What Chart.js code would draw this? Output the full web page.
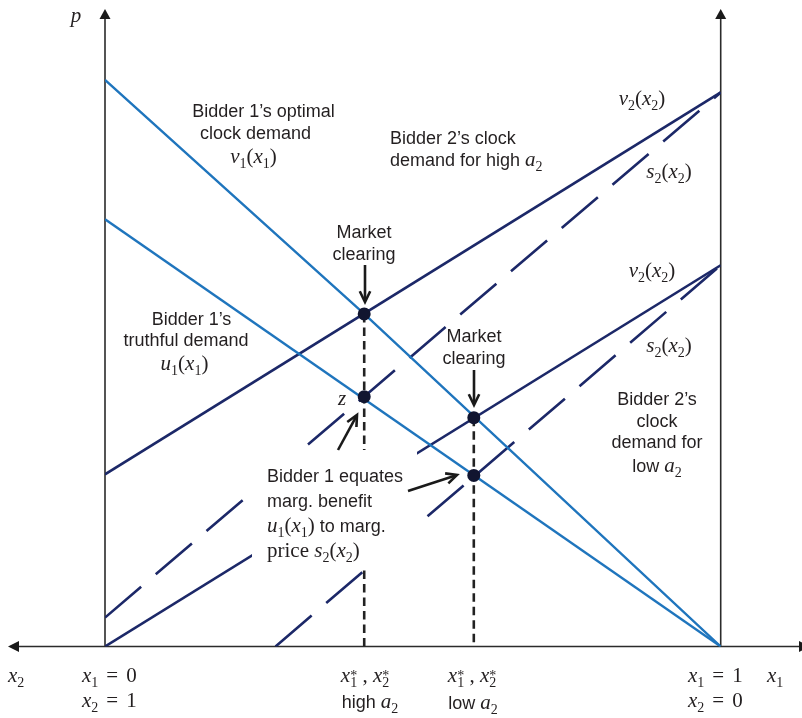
<!DOCTYPE html>
<html><head><meta charset="utf-8">
<script src="https://cdn.jsdelivr.net/npm/chart.js@4"></script>
<style>html,body{margin:0;padding:0;background:#fff;}canvas{display:block;}</style>
</head><body>
<canvas id="c" width="802" height="718"></canvas>
<script>
// ---- data (x1 in [0,1], price p in relative units) ----
const v1X = [0, 0.421, 1];      const v1P = [1.0, 0.587, 0];       // Bidder 1 optimal clock demand v1(x1)
const u1X = [0, 1];             const u1P = [0.754, 0];            // Bidder 1 truthful demand u1(x1)
const v2HighX = [0, 1];         const v2HighP = [0.304, 0.978];    // v2(x2), high a2
const s2HighX = [0, 1];         const s2HighP = [0.051, 0.978];    // s2(x2), high a2
const v2LowX = [0, 1];          const v2LowP = [0, 0.673];         // v2(x2), low a2
const s2LowX = [0.277, 1];      const s2LowP = [0, 0.673];         // s2(x2), low a2
const markX = [0.421, 0.421, 0.599, 0.599];
const markP = [0.587, 0.441, 0.404, 0.302];
const dropHighX = [0.421, 0.421]; const dropHighP = [0.587, 0];
const dropLowX = [0.599, 0.599];  const dropLowP = [0.404, 0];
const xMin = 0, xMax = 1, pMin = 0, pMax = 1.1253;

const BLUE = '#1f75bd', NAVY = '#1c2868', INK = '#231f20';
const pts = (xs, ys) => xs.map((x, i) => ({x: x, y: ys[i]}));
const lineDs = (xs, ys, color, w, dash) => ({
  data: pts(xs, ys), showLine: true, borderColor: color, borderWidth: w,
  borderDash: dash || [], pointRadius: 0, fill: false, tension: 0
});

const SANS = '18px "Liberation Sans", Arial, sans-serif';
const MI = 'italic 21px "Liberation Serif", "Times New Roman", serif';
const MR = '21px "Liberation Serif", "Times New Roman", serif';
const SUB = '14px "Liberation Serif", "Times New Roman", serif';
function fontOf(k){ return k==='s'?SANS : k==='i'?MI : k==='r'?MR : SUB; }
function pw(ctx, p){
  if (p[0]==='g') return p[1];
  if (p[0]==='ss'){ ctx.font = SUB; return Math.max(ctx.measureText(p[1]).width, ctx.measureText(p[2]).width); }
  ctx.font = fontOf(p[0]); return ctx.measureText(p[1]).width;
}
function rich(ctx, parts, x, y, align){
  let w = 0; parts.forEach(p => w += pw(ctx, p));
  let cx = align==='center' ? x - w/2 : align==='right' ? x - w : x;
  ctx.textAlign = 'left'; ctx.textBaseline = 'alphabetic'; ctx.fillStyle = INK;
  parts.forEach(p => {
    const wd = pw(ctx, p);
    if (p[0]==='b'){ ctx.font = SUB; ctx.fillText(p[1], cx, y+5); }
    else if (p[0]==='ss'){ ctx.font = SUB; ctx.fillText(p[1], cx, y+5); ctx.fillText(p[2], cx, y-2); }
    else if (p[0]!=='g'){ ctx.font = fontOf(p[0]); ctx.fillText(p[1], cx, y); }
    cx += wd;
  });
}
const fn = (f, v, s) => [['i',f],['b',v],['r','('],['i','x'],['b',s],['r',')']];
const eq = (s, n) => [['i','x'],['b',s],['g',8],['r','='],['g',8],['r',n]];

function arrow(ctx, x1, y1, x2, y2){
  const a = Math.atan2(y2-y1, x2-x1), L = 12, s = 0.45;
  ctx.save(); ctx.strokeStyle = '#1a1a1a'; ctx.lineWidth = 2.6; ctx.lineCap = 'butt'; ctx.lineJoin = 'miter';
  ctx.beginPath(); ctx.moveTo(x1,y1); ctx.lineTo(x2-Math.cos(a)*1.5, y2-Math.sin(a)*1.5); ctx.stroke();
  ctx.beginPath();
  ctx.moveTo(x2-L*Math.cos(a-s), y2-L*Math.sin(a-s)); ctx.lineTo(x2,y2);
  ctx.lineTo(x2-L*Math.cos(a+s), y2-L*Math.sin(a+s)); ctx.stroke();
  ctx.restore();
}
function tri(ctx, pts3){
  ctx.beginPath(); ctx.moveTo(pts3[0],pts3[1]); ctx.lineTo(pts3[2],pts3[3]); ctx.lineTo(pts3[4],pts3[5]); ctx.closePath(); ctx.fill();
}

const axesPlugin = {
  id: 'axes',
  beforeDatasetsDraw(chart){
    const ctx = chart.ctx, xs = chart.scales.x, ys = chart.scales.y;
    const xl = xs.getPixelForValue(0), xr = xs.getPixelForValue(1), yb = ys.getPixelForValue(0), top = chart.chartArea.top;
    ctx.save(); ctx.strokeStyle = '#2b2b2b'; ctx.fillStyle = '#1a1a1a'; ctx.lineWidth = 1.6;
    ctx.beginPath();
    ctx.moveTo(xl, yb); ctx.lineTo(xl, top+6);
    ctx.moveTo(xr, yb); ctx.lineTo(xr, top+6);
    ctx.moveTo(14, yb); ctx.lineTo(802, yb);
    ctx.stroke();
    tri(ctx, [xl, top, xl-5.5, top+10, xl+5.5, top+10]);
    tri(ctx, [xr, top, xr-5.5, top+10, xr+5.5, top+10]);
    tri(ctx, [8, yb, 19, yb-5.5, 19, yb+5.5]);
    tri(ctx, [810, yb, 799, yb-5.5, 799, yb+5.5]);
    ctx.restore();
  },
  afterDatasetsDraw(chart){
    const ctx = chart.ctx;
    ctx.save();
    // white label box (covers lines behind the text)
    ctx.fillStyle = '#fff'; ctx.fillRect(252, 450, 165, 120);
    // labels
    rich(ctx, [['i','p']], 76, 22, 'center');
    rich(ctx, [['s','Bidder 1\u2019s optimal']], 263.5, 117, 'center');
    rich(ctx, [['s','clock demand']], 255.5, 139, 'center');
    rich(ctx, fn('v','1','1'), 253.5, 163, 'center');
    rich(ctx, [['s','Bidder 2\u2019s clock']], 390, 144, 'left');
    rich(ctx, [['s','demand for high '],['i','a'],['b','2']], 390, 166, 'left');
    rich(ctx, fn('v','2','2'), 642, 105, 'center');
    rich(ctx, fn('s','2','2'), 669, 178, 'center');
    rich(ctx, [['s','Market']], 364, 237.5, 'center');
    rich(ctx, [['s','clearing']], 364, 260, 'center');
    rich(ctx, [['s','Bidder 1\u2019s']], 191.5, 325, 'center');
    rich(ctx, [['s','truthful demand']], 186, 346, 'center');
    rich(ctx, fn('u','1','1'), 184.5, 370, 'center');
    rich(ctx, [['i','z']], 342, 405, 'center');
    rich(ctx, [['s','Market']], 474, 342, 'center');
    rich(ctx, [['s','clearing']], 474, 364, 'center');
    rich(ctx, fn('v','2','2'), 652, 277, 'center');
    rich(ctx, fn('s','2','2'), 669, 352, 'center');
    rich(ctx, [['s','Bidder 2\u2019s']], 657, 405, 'center');
    rich(ctx, [['s','clock']], 657, 427, 'center');
    rich(ctx, [['s','demand for']], 657, 448, 'center');
    rich(ctx, [['s','low '],['i','a'],['b','2']], 657, 472, 'center');
    rich(ctx, [['s','Bidder 1 equates']], 267, 482, 'left');
    rich(ctx, [['s','marg. benefit']], 267, 507, 'left');
    rich(ctx, fn('u','1','1').concat([['s',' to marg.']]), 267, 532, 'left');
    rich(ctx, [['r','price '],].concat(fn('s','2','2')), 267, 557, 'left');
    // bottom axis labels
    rich(ctx, [['i','x'],['b','2']], 8, 682, 'left');
    rich(ctx, eq('1','0'), 82, 682, 'left');
    rich(ctx, eq('2','1'), 82, 707, 'left');
    const star = [['i','x'],['ss','1','*'],['r',' , '],['i','x'],['ss','2','*']];
    rich(ctx, star, 365, 682, 'center');
    rich(ctx, [['s','high '],['i','a'],['b','2']], 370, 708, 'center');
    rich(ctx, star, 472, 682, 'center');
    rich(ctx, [['s','low '],['i','a'],['b','2']], 473, 709, 'center');
    rich(ctx, eq('1','1'), 688, 682, 'left');
    rich(ctx, eq('2','0'), 688, 707, 'left');
    rich(ctx, [['i','x'],['b','1']], 767, 682, 'left');
    // arrows
    arrow(ctx, 365, 265, 365, 302);
    arrow(ctx, 474, 370, 474, 405);
    arrow(ctx, 338, 450, 357, 415);
    arrow(ctx, 408, 491, 457, 475);
    ctx.restore();
  }
};

new Chart(document.getElementById('c'), {
  type: 'scatter',
  data: { datasets: [
    { data: pts(markX, markP), pointRadius: 6.5, pointBackgroundColor: '#111530', pointBorderColor: '#111530', pointBorderWidth: 0, showLine: false },
    lineDs(dropHighX, dropHighP, '#222', 2.6, [8.5, 5]),
    lineDs(dropLowX, dropLowP, '#222', 2.6, [8.5, 5]),
    lineDs(v1X, v1P, BLUE, 2.4),
    lineDs(u1X, u1P, BLUE, 2.4),
    lineDs(v2HighX, v2HighP, NAVY, 2.6),
    lineDs(s2HighX, s2HighP, NAVY, 2.6, [47.5, 19.2]),
    lineDs(v2LowX, v2LowP, NAVY, 2.6),
    lineDs(s2LowX, s2LowP, NAVY, 2.6, [47.5, 19.2])
  ]},
  options: {
    responsive: false, animation: false, events: [],
    layout: { padding: { left: 105, right: 81.3, top: 9, bottom: 71.5 } },
    plugins: { legend: { display: false }, tooltip: { enabled: false } },
    scales: {
      x: { type: 'linear', min: xMin, max: xMax, display: false },
      y: { type: 'linear', min: pMin, max: pMax, display: false }
    }
  },
  plugins: [axesPlugin]
});
</script>
</body></html>
